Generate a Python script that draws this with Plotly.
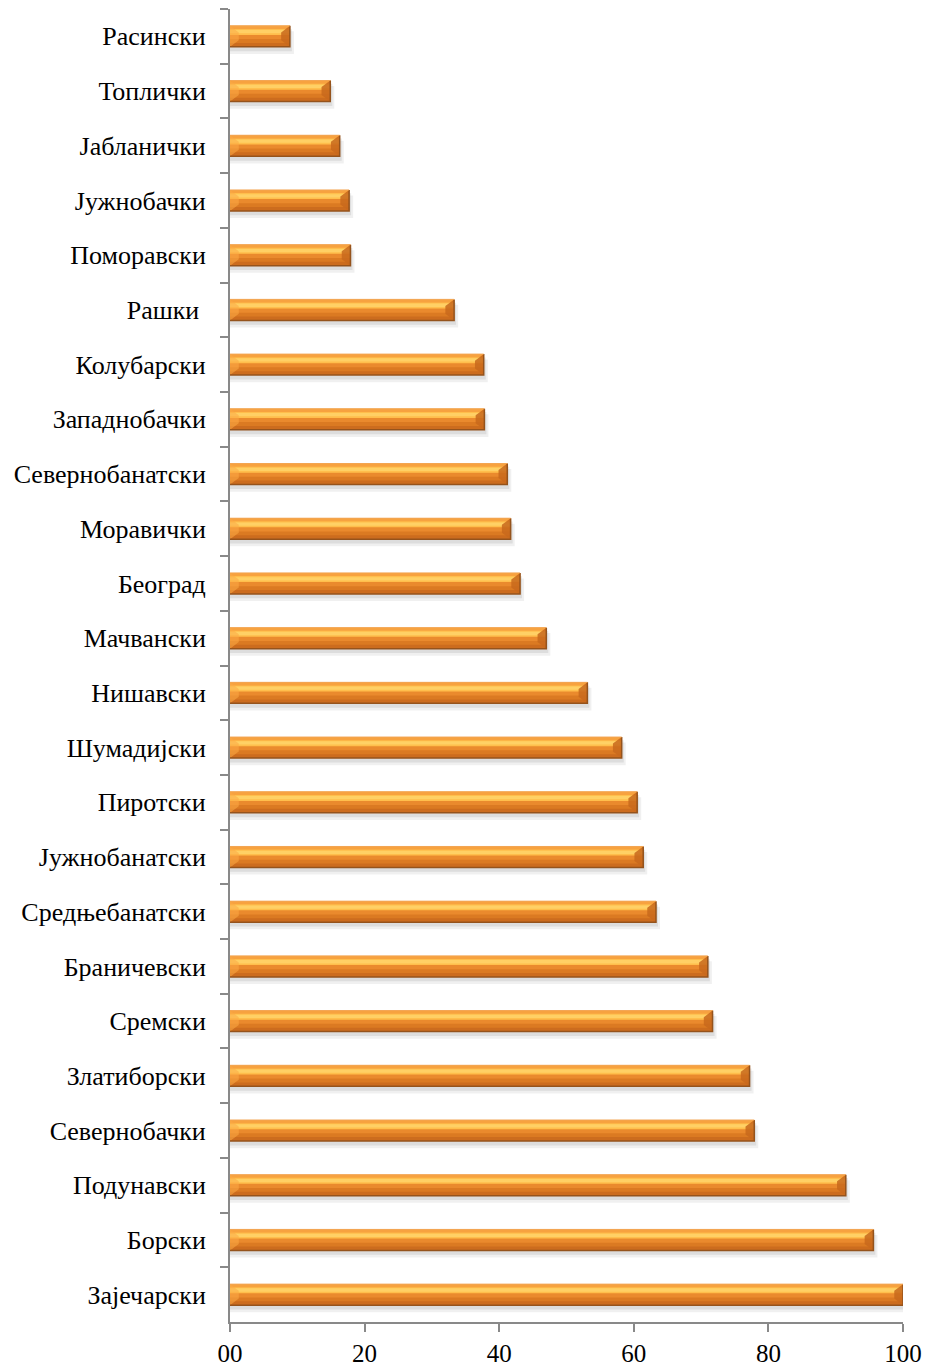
import plotly.graph_objects as go

# Districts, listed top to bottom
districts = [
    "Расински", "Топлички", "Јабланички", "Јужнобачки", "Поморавски",
    "Рашки ", "Колубарски", "Западнобачки", "Севернобанатски", "Моравички",
    "Београд", "Мачвански", "Нишавски", "Шумадијски", "Пиротски",
    "Јужнобанатски", "Средњебанатски", "Браничевски", "Сремски",
    "Златиборски", "Севернобачки", "Подунавски", "Борски", "Зајечарски",
]
values = [
    8.9, 14.9, 16.3, 17.7, 17.9,
    33.3, 37.7, 37.8, 41.2, 41.7,
    43.1, 47.0, 53.1, 58.2, 60.5,
    61.4, 63.3, 71.0, 71.7, 77.2,
    77.9, 91.5, 95.6, 100.0,
]
x_ticks = [0, 20, 40, 60, 80, 100]
x_tick_text = ["00", "20", "40", "60", "80", "100"]

pos = list(range(len(districts)))
H = 0.192          # half bar thickness (category units)
DX = 1.3           # bevel depth along value axis
DY = 0.12          # bevel depth across bar

fig = go.Figure()


def band(top, bottom, color, dx=0.0):
    """Horizontal bar layer spanning [c+top, c+bottom] around each category."""
    fig.add_trace(go.Bar(
        y=pos, x=[v + dx for v in values], orientation="h",
        offset=top, width=bottom - top,
        marker=dict(color=color, line=dict(width=0)),
        hoverinfo="skip", showlegend=False,
    ))


# soft drop shadow
band(-H + 0.10, H + 0.13, "rgba(0,0,0,0.06)", dx=0.6)
band(-H + 0.06, H + 0.08, "rgba(0,0,0,0.08)", dx=0.3)
# body and shading bands
band(-H, H, "#EA8A2D")
band(0.05, H, "#DB7A22")
band(0.12, H, "#CC6C1E")
band(-H, -0.13, "#F7A23F")
band(-0.135, -0.025, "#FFBE4C")
band(-0.115, -0.055, "#FFD065")


def polys(fn, close=True):
    xs, ys = [], []
    for c, v in zip(pos, values):
        px, py = fn(c, v)
        if close:
            px, py = px + [px[0]], py + [py[0]]
        xs += px + [None]
        ys += py + [None]
    return xs, ys


# end bevels: light on the left, darker on the right
lx, ly = polys(lambda c, v: ([0, DX, DX, 0], [c - H, c - H + DY, c + H - DY, c + H]))
fig.add_trace(go.Scatter(x=lx, y=ly, mode="lines", fill="toself",
                         fillcolor="rgba(252,170,70,0.55)", line=dict(width=0),
                         hoverinfo="skip", showlegend=False))
rx, ry = polys(lambda c, v: ([v, v - DX, v - DX, v], [c - H, c - H + DY, c + H - DY, c + H]))
fig.add_trace(go.Scatter(x=rx, y=ry, mode="lines", fill="toself",
                         fillcolor="rgba(200,104,28,0.85)", line=dict(width=0),
                         hoverinfo="skip", showlegend=False))

# outlines: dark bottom and right edges, light top edge
bx, by = polys(lambda c, v: ([0, v, v], [c + H, c + H, c - H]), close=False)
fig.add_trace(go.Scatter(x=bx, y=by, mode="lines",
                         line=dict(color="#95531C", width=1.5),
                         hoverinfo="skip", showlegend=False))
tx, ty = polys(lambda c, v: ([0, v], [c - H, c - H]), close=False)
fig.add_trace(go.Scatter(x=tx, y=ty, mode="lines",
                         line=dict(color="#F3A552", width=1),
                         hoverinfo="skip", showlegend=False))

font = "Liberation Serif, Times New Roman, serif"
fig.update_layout(
    width=926, height=1369,
    margin=dict(l=230, r=23, t=9, b=47),
    paper_bgcolor="white", plot_bgcolor="white",
    barmode="overlay",
    font=dict(family=font, color="black"),
    xaxis=dict(
        range=[0, 100], tickvals=x_ticks, ticktext=x_tick_text,
        automargin=False,
        showgrid=False, zeroline=False,
        showline=True, linecolor="#898989", linewidth=2,
        ticks="outside", ticklen=8, tickcolor="#898989", tickwidth=2,
        ticklabelstandoff=0,
        tickfont=dict(family=font, size=25),
    ),
    yaxis=dict(
        range=[len(districts) - 0.5, -0.5],
        tickvals=pos, ticktext=districts,
        automargin=False,
        showgrid=False, zeroline=False,
        showline=True, linecolor="#898989", linewidth=2,
        ticks="", ticklabelstandoff=17,
        tickfont=dict(family=font, size=26),
        minor=dict(tickvals=[p + 0.5 for p in pos[:-1]] + [-0.5],
                   ticks="outside", ticklen=8, tickcolor="#898989",
                   tickwidth=2, showgrid=False),
    ),
)

fig.write_html("out.html")
